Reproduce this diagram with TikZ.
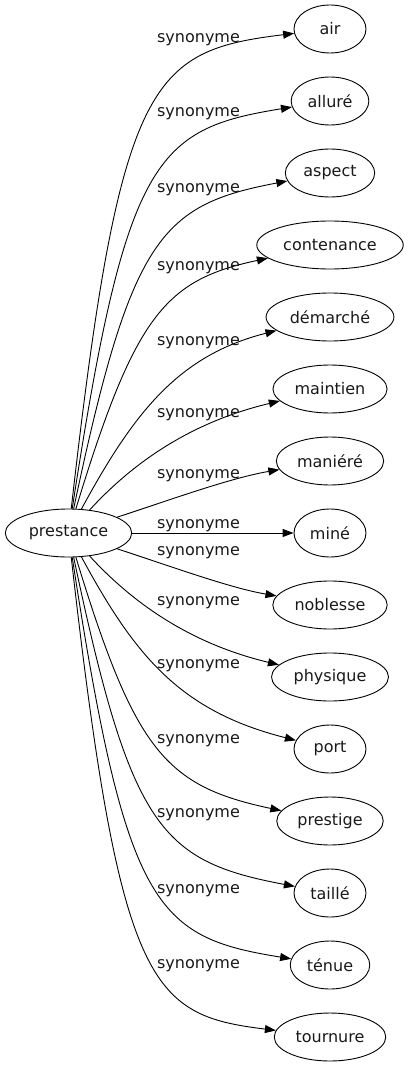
\documentclass[tikz,border=0pt]{standalone}
\usepackage{fontspec}
\setmainfont{DejaVu Sans}
\usetikzlibrary{shapes.geometric,arrows.meta}

\begin{document}
\begin{tikzpicture}[x=1pt, y=-1pt,
        word/.style={draw, ellipse, line width=0.9pt, inner xsep=5pt, inner ysep=2pt, minimum width=72pt, minimum height=48pt, font=\fontsize{16}{19}\selectfont, text=black!90},
        syn/.style={anchor=base, inner sep=0pt, font=\fontsize{16}{19}\selectfont, text=black!90},
        link/.style={draw, line width=0.9pt, -{Triangle[length=11pt, width=8pt]}}]
            \useasboundingbox (0, 0) rectangle (407, 1067);
            % source word
            \node[word] (prestance) at (68.5, 533) {prestance};
            % synonyms
            \node[word] (air) at (330, 29) {air};
            \node[word] (allure) at (330, 101) {alluré};
            \node[word] (aspect) at (330, 173) {aspect};
            \node[word] (contenance) at (330, 245) {contenance};
            \node[word] (demarche) at (330, 317) {démarché};
            \node[word] (maintien) at (330, 389) {maintien};
            \node[word] (maniere) at (330, 461) {maniéré};
            \node[word] (mine) at (330, 533) {miné};
            \node[word] (noblesse) at (330, 605) {noblesse};
            \node[word] (physique) at (330, 677) {physique};
            \node[word] (port) at (330, 749) {port};
            \node[word] (prestige) at (330, 821) {prestige};
            \node[word] (taille) at (330, 893) {taillé};
            \node[word] (tenue) at (330, 965) {ténue};
            \node[word] (tournure) at (330, 1037) {tournure};
            % edges
            \draw[link] (prestance) .. controls (120, 78) and (150, 51) .. (air);
            \draw[link] (prestance) .. controls (126, 158) and (155, 129) .. (allure);
            \draw[link] (prestance) .. controls (131, 238) and (160, 205) .. (aspect);
            \draw[link] (prestance) .. controls (135, 315) and (165, 280) .. (contenance);
            \draw[link] (prestance) .. controls (135, 410) and (180, 355) .. (demarche);
            \draw[link] (prestance) .. controls (140, 455) and (200, 420) .. (maintien);
            \draw[link] (prestance) .. controls (170, 500) and (230, 478) .. (maniere);
            \draw[link] (prestance) -- (mine);
            \draw[link] (prestance) .. controls (170, 566) and (230, 588) .. (noblesse);
            \draw[link] (prestance) .. controls (140, 611) and (200, 646) .. (physique);
            \draw[link] (prestance) .. controls (135, 656) and (180, 711) .. (port);
            \draw[link] (prestance) .. controls (135, 751) and (165, 786) .. (prestige);
            \draw[link] (prestance) .. controls (131, 828) and (160, 861) .. (taille);
            \draw[link] (prestance) .. controls (126, 908) and (155, 937) .. (tenue);
            \draw[link] (prestance) .. controls (120, 988) and (150, 1015) .. (tournure);
            % edge labels
            \node[syn] (l-air) at (198.5, 43) {synonyme};
            \node[syn] (l-allure) at (198.5, 117) {synonyme};
            \node[syn] (l-aspect) at (198.5, 193) {synonyme};
            \node[syn] (l-contenance) at (198.5, 270) {synonyme};
            \node[syn] (l-demarche) at (198.5, 345) {synonyme};
            \node[syn] (l-maintien) at (198.5, 417) {synonyme};
            \node[syn] (l-maniere) at (198.5, 478) {synonyme};
            \node[syn] (l-mine) at (198.5, 528) {synonyme};
            \node[syn] (l-noblesse) at (198.5, 555) {synonyme};
            \node[syn] (l-physique) at (198.5, 605) {synonyme};
            \node[syn] (l-port) at (198.5, 668) {synonyme};
            \node[syn] (l-prestige) at (198.5, 743) {synonyme};
            \node[syn] (l-taille) at (198.5, 817) {synonyme};
            \node[syn] (l-tenue) at (198.5, 893) {synonyme};
            \node[syn] (l-tournure) at (198.5, 968) {synonyme};
\end{tikzpicture}
\end{document}
